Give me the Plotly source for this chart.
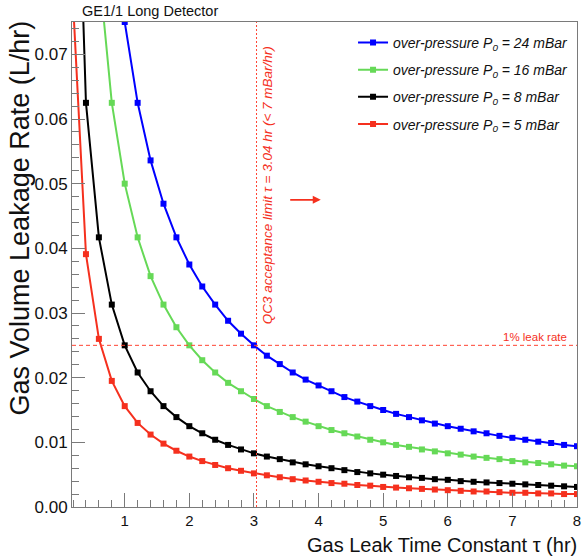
import plotly.graph_objects as go

# Gas leak time constant tau (hr)
tau = [0.2, 0.4, 0.6, 0.8, 1.0, 1.2, 1.4, 1.6, 1.8, 2.0,
       2.2, 2.4, 2.6, 2.8, 3.0, 3.2, 3.4, 3.6, 3.8, 4.0,
       4.2, 4.4, 4.6, 4.8, 5.0, 5.2, 5.4, 5.6, 5.8, 6.0,
       6.2, 6.4, 6.6, 6.8, 7.0, 7.2, 7.4, 7.6, 7.8, 8.0]

# Gas volume leakage rate (L/hr) for each over-pressure
rate_24 = [0.375, 0.1875, 0.125, 0.0938, 0.0750, 0.0625, 0.0536, 0.0469, 0.0417, 0.0375,
           0.0341, 0.0313, 0.0288, 0.0268, 0.0250, 0.0234, 0.0221, 0.0208, 0.0197, 0.0188,
           0.0179, 0.0170, 0.0163, 0.0156, 0.0150, 0.0144, 0.0139, 0.0134, 0.0129, 0.0125,
           0.0121, 0.0117, 0.0114, 0.0110, 0.0107, 0.0104, 0.0101, 0.0099, 0.0096, 0.0094]
rate_16 = [0.25, 0.125, 0.0833, 0.0625, 0.0500, 0.0417, 0.0357, 0.0313, 0.0278, 0.0250,
           0.0227, 0.0208, 0.0192, 0.0179, 0.0167, 0.0156, 0.0147, 0.0139, 0.0132, 0.0125,
           0.0119, 0.0114, 0.0109, 0.0104, 0.0100, 0.0096, 0.0093, 0.0089, 0.0086, 0.0083,
           0.0081, 0.0078, 0.0076, 0.0074, 0.0071, 0.0069, 0.0068, 0.0066, 0.0064, 0.0063]
rate_8 = [0.125, 0.0625, 0.0417, 0.0313, 0.0250, 0.0208, 0.0179, 0.0156, 0.0139, 0.0125,
          0.0114, 0.0104, 0.0096, 0.0089, 0.0083, 0.0078, 0.0074, 0.0069, 0.0066, 0.0063,
          0.0060, 0.0057, 0.0054, 0.0052, 0.0050, 0.0048, 0.0046, 0.0045, 0.0043, 0.0042,
          0.0040, 0.0039, 0.0038, 0.0037, 0.0036, 0.0035, 0.0034, 0.0033, 0.0032, 0.0031]
rate_5 = [0.0781, 0.0391, 0.0260, 0.0195, 0.0156, 0.0130, 0.0112, 0.0098, 0.0087, 0.0078,
          0.0071, 0.0065, 0.0060, 0.0056, 0.0052, 0.0049, 0.0046, 0.0043, 0.0041, 0.0039,
          0.0037, 0.0036, 0.0034, 0.0033, 0.0031, 0.0030, 0.0029, 0.0028, 0.0027, 0.0026,
          0.0025, 0.0024, 0.0024, 0.0023, 0.0022, 0.0022, 0.0021, 0.0021, 0.0020, 0.0020]

series_names = ["<i>over-pressure P<sub>0</sub> = 24 mBar</i>",
                "<i>over-pressure P<sub>0</sub> = 16 mBar</i>",
                "<i>over-pressure P<sub>0</sub> = 8 mBar</i>",
                "<i>over-pressure P<sub>0</sub> = 5 mBar</i>"]
series_values = [rate_24, rate_16, rate_8, rate_5]
series_colors = ["#0000ff", "#66d957", "#000000", "#f5301e"]

# reference lines
qc3_limit_tau = 3.04
leak_rate_1pct = 0.025

x_ticks = [1, 2, 3, 4, 5, 6, 7, 8]
y_ticks = [0.00, 0.01, 0.02, 0.03, 0.04, 0.05, 0.06, 0.07]

FONT = "Liberation Sans, Arial, Helvetica, sans-serif"
AX = "#7a7a7a"

fig = go.Figure()
for i, (nm, vals, col) in enumerate(zip(series_names, series_values, series_colors)):
    fig.add_trace(go.Scatter(
        x=tau, y=vals, name=nm, mode="lines+markers",
        line=dict(color=col, width=2),
        marker=dict(symbol="square", size=6, color=col),
        legendgroup=f"g{i}",
    ))

fig.add_shape(type="line", xref="x", yref="y", x0=0.184, x1=8.0,
              y0=leak_rate_1pct, y1=leak_rate_1pct,
              line=dict(color="#ff4433", width=1, dash="4px,3px"))
fig.add_shape(type="line", xref="x", yref="y", x0=qc3_limit_tau, x1=qc3_limit_tau,
              y0=0, y1=0.075,
              line=dict(color="#ff4433", width=1, dash="2px,2px"))

fig.add_annotation(x=7.87, y=leak_rate_1pct, xref="x", yref="y",
                   xanchor="right", yanchor="bottom", showarrow=False,
                   text="1% leak rate", font=dict(family=FONT, size=11.5, color="#f5301e"))
fig.add_annotation(x=3.213, y=0.0497, xref="x", yref="y", textangle=-90,
                   xanchor="center", yanchor="middle", showarrow=False,
                   text="<i>QC3 acceptance limit τ = 3.04 hr (< 7 mBar/hr)</i>",
                   font=dict(family=FONT, size=13.5, color="#f5301e"))
fig.add_annotation(x=4.034, y=0.0475, ax=3.538, ay=0.0475, xref="x", yref="y",
                   axref="x", ayref="y", text="", showarrow=True,
                   arrowhead=2, arrowsize=1, arrowwidth=1.6, arrowcolor="#f5301e")

# axis titles
fig.add_annotation(x=1, y=0, xref="paper", yref="paper", xanchor="right", yanchor="middle",
                   xshift=2, yshift=-38, showarrow=False,
                   text="Gas Leak Time Constant τ (hr)",
                   font=dict(family=FONT, size=20, color="#111"))
fig.add_annotation(x=0, y=1, xref="paper", yref="paper", xanchor="center", yanchor="top",
                   xshift=-53, yshift=3, showarrow=False, textangle=-90,
                   text="Gas Volume Leakage Rate (L/hr)",
                   font=dict(family=FONT, size=27, color="#111"))

fig.update_layout(
    width=582, height=560,
    margin=dict(l=72, r=5, t=22, b=53, autoexpand=False),
    paper_bgcolor="white", plot_bgcolor="white",
    font=dict(family=FONT, color="#111"),
    title=dict(text="GE1/1 Long Detector", x=82/582, xanchor="left", y=1-11/560,
               yanchor="middle", font=dict(family=FONT, size=14.5, color="#111")),
    legend=dict(x=0.5565, xanchor="left", y=0.99, yanchor="top",
                bgcolor="rgba(0,0,0,0)", font=dict(family=FONT, size=14, color="#111"),
                tracegroupgap=6, itemwidth=30),
    showlegend=True,
)
fig.update_xaxes(range=[0.184, 8.0], tickvals=x_ticks, ticks="inside", ticklen=14,
                 tickcolor=AX, tickwidth=1, showline=True, linecolor=AX, linewidth=1,
                 mirror=True, showgrid=False, zeroline=False, automargin=False,
                 tickfont=dict(family=FONT, size=15, color="#111"),
                 minor=dict(dtick=0.2, tick0=0, ticks="inside", ticklen=7, tickcolor=AX, showgrid=False))
fig.update_yaxes(range=[0, 0.075], tickvals=y_ticks, tickformat=".2f", ticks="inside", ticklen=13,
                 tickcolor=AX, tickwidth=1, showline=True, linecolor=AX, linewidth=1,
                 mirror=True, showgrid=False, zeroline=False, automargin=False,
                 tickfont=dict(family=FONT, size=17, color="#111"),
                 minor=dict(dtick=0.002, tick0=0, ticks="inside", ticklen=7, tickcolor=AX, showgrid=False))

fig.write_html("out.html", config={"displayModeBar": False},
               post_script="document.body.style.margin='0px';document.body.style.overflow='hidden';")
